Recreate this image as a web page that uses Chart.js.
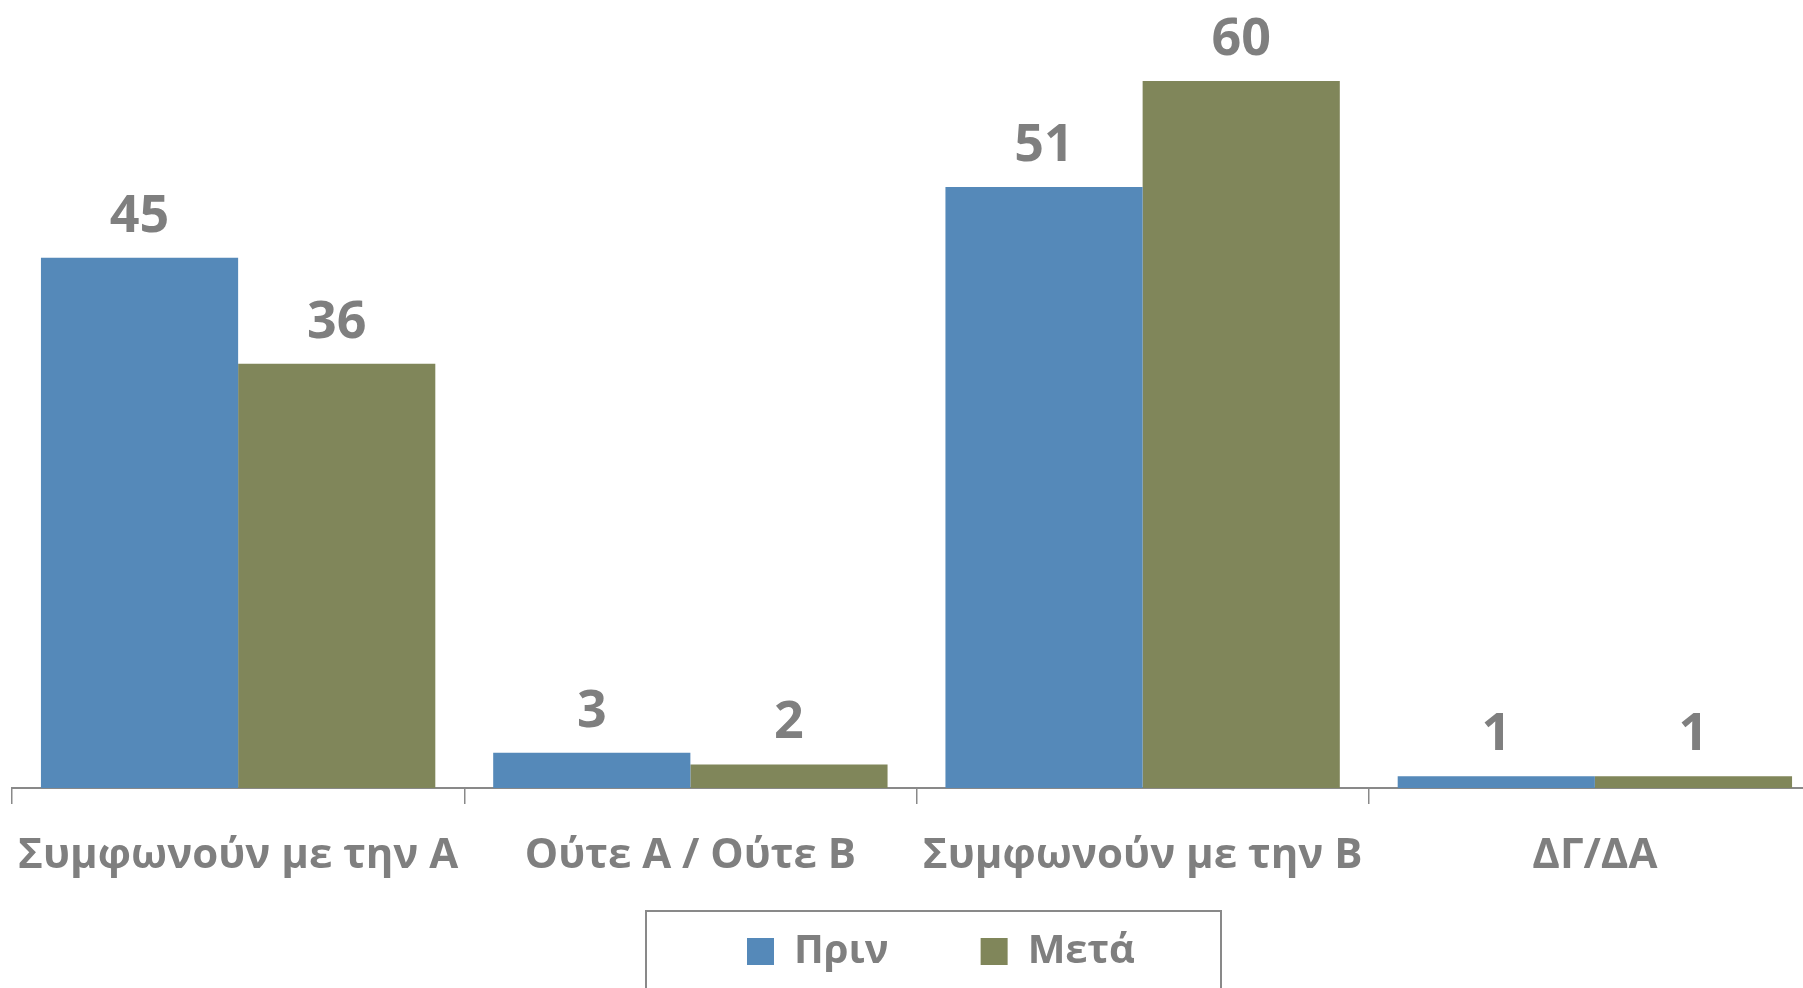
<!DOCTYPE html>
<html>
<head>
<meta charset="utf-8">
<script src="https://cdn.jsdelivr.net/npm/chart.js@4/dist/chart.umd.min.js"></script>
<style>
  html, body { margin: 0; padding: 0; background: #ffffff; overflow: hidden; }
  #wrap { position: relative; width: 1821px; height: 988px; }
</style>
</head>
<body>
<div id="wrap"><canvas id="c"></canvas></div>
<script>
// ---- data ----
const categories = ['Συμφωνούν με την Α', 'Ούτε Α / Ούτε Β', 'Συμφωνούν με την Β', 'ΔΓ/ΔΑ'];
const seriesNames = ['Πριν', 'Μετά'];
const beforeValues = [45, 3, 51, 1];
const afterValues = [36, 2, 60, 1];
const yTicks = [0, 60];

// ---- style ----
const BLUE = '#5589B9';
const OLIVE = '#80865A';
const GREY_TEXT = '#7F7F7F';
const AXIS_GREY = '#898989';
const FONT = "'Open Sans', 'Noto Sans', sans-serif";
const LEG_PAD = 92;
const LEG_FONT = 40;

const valueLabels = {
  id: 'valueLabels',
  afterDatasetsDraw(chart) {
    const ctx = chart.ctx;
    ctx.save();
    ctx.font = 'bold 52px ' + FONT;
    ctx.fillStyle = GREY_TEXT;
    ctx.textAlign = 'center';
    ctx.textBaseline = 'alphabetic';
    chart.data.datasets.forEach((ds, i) => {
      const meta = chart.getDatasetMeta(i);
      meta.data.forEach((bar, j) => {
        ctx.fillText(String(ds.data[j]), bar.x, bar.y - 26);
      });
    });
    ctx.restore();
  }
};

const legendPlacer = {
  id: 'legendPlacer',
  afterLayout(chart) {
    const lg = chart.legend;
    if (!lg) return;
    lg.left = 747 - LEG_PAD;
    lg.right = 1810;
    lg.top = 931.5 - LEG_PAD;
  },
  afterDraw(chart) {
    const ctx = chart.ctx;
    ctx.save();
    ctx.strokeStyle = AXIS_GREY;
    ctx.lineWidth = 2;
    ctx.strokeRect(646, 911, 575, 200);
    ctx.restore();
  }
};

new Chart(document.getElementById('c'), {
  type: 'bar',
  data: {
    labels: categories,
    datasets: [
      { label: seriesNames[0], data: beforeValues, backgroundColor: BLUE, borderWidth: 0 },
      { label: seriesNames[1], data: afterValues, backgroundColor: OLIVE, borderWidth: 0 }
    ]
  },
  options: {
    responsive: true,
    maintainAspectRatio: false,
    animation: false,
    devicePixelRatio: 1,
    layout: { padding: { top: 81, left: 12, right: 0, bottom: 0 } },
    datasets: { bar: { categoryPercentage: 0.872, barPercentage: 1.0 } },
    scales: {
      x: {
        grid: { display: true, drawOnChartArea: false, drawTicks: true, tickLength: 16, color: AXIS_GREY, lineWidth: 1.5 },
        border: { display: true, color: AXIS_GREY, width: 2 },
        ticks: { color: GREY_TEXT, font: { family: FONT, size: 42, weight: 'bold' }, padding: 27, maxRotation: 0, autoSkip: false },
        afterFit(scale) {
          scale.height = 123;
          scale.paddingLeft = 0;
          scale.paddingRight = 0;
        }
      },
      y: {
        display: false,
        min: yTicks[0],
        max: yTicks[yTicks.length - 1]
      }
    },
    plugins: {
      tooltip: { enabled: false },
      legend: {
        display: true,
        position: 'bottom',
        align: 'start',
        maxHeight: 77,
        labels: {
          boxWidth: 27,
          boxHeight: 27,
          padding: LEG_PAD,
          color: GREY_TEXT,
          font: { family: FONT, size: LEG_FONT, weight: 'bold' }
        }
      }
    }
  },
  plugins: [valueLabels, legendPlacer]
});
</script>
</body>
</html>
